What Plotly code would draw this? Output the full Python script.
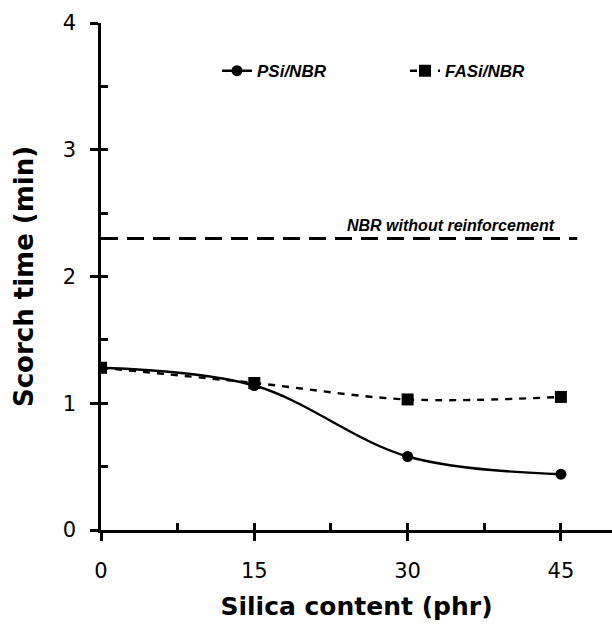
import plotly.graph_objects as go

silica = [0, 15, 30, 45]
psi_nbr = [1.28, 1.14, 0.58, 0.44]
fasi_nbr = [1.28, 1.16, 1.03, 1.05]
nbr_ref_x = [0, 46.6]
nbr_ref_y = [2.3, 2.3]
x_ticks = [0, 15, 30, 45]
y_ticks = [0, 1, 2, 3, 4]

FONT = "Liberation Sans, Arial, sans-serif"
WIDE = "DejaVu Sans, sans-serif"

fig = go.Figure()
fig.add_trace(go.Scatter(
    x=nbr_ref_x, y=nbr_ref_y, mode="lines", showlegend=False,
    line=dict(color="black", width=2.8, dash="17px,9px"), hoverinfo="skip"))
fig.add_trace(go.Scatter(
    x=silica, y=fasi_nbr, mode="lines+markers", name="<b><i>FASi/NBR</i></b>",
    line=dict(color="black", width=2.4, dash="7px,7px", shape="spline", smoothing=1.0),
    marker=dict(symbol="square", size=12, color="black")))
fig.add_trace(go.Scatter(
    x=silica, y=psi_nbr, mode="lines+markers", name="<b><i>PSi/NBR</i></b>",
    line=dict(color="black", width=2.4, shape="spline", smoothing=1.0),
    marker=dict(symbol="circle", size=11, color="black")))

fig.add_annotation(x=0.685, xref="paper", xanchor="center", y=2.3, yref="y",
                   yanchor="bottom", yshift=2,
                   text="<b><i>NBR without reinforcement</i></b>", showarrow=False,
                   font=dict(family=FONT, size=16, color="black"))

fig.update_layout(
    width=612, height=632,
    margin=dict(l=101, r=0, t=23, b=102),
    paper_bgcolor="white", plot_bgcolor="white",
    font=dict(family=FONT, color="black"),
    legend=dict(orientation="h", x=0.227, y=0.905, xanchor="left", yanchor="middle",
                traceorder="reversed", entrywidth=143, entrywidthmode="pixels",
                font=dict(family=FONT, size=17, color="black"), bgcolor="rgba(0,0,0,0)"),
    xaxis=dict(range=[0, 50], tickvals=x_ticks, ticktext=[str(v) for v in x_ticks],
               showgrid=False, zeroline=False, showline=True, linecolor="black", linewidth=2.5,
               ticks="outside", ticklen=8, tickwidth=2.5, tickcolor="black",
               tickfont=dict(size=21, family=WIDE), ticklabelstandoff=12,
               title=dict(text="<b>Silica content (phr)</b>", font=dict(size=25, family=WIDE), standoff=16)),
    yaxis=dict(range=[0, 4], tickvals=y_ticks, ticktext=[str(v) for v in y_ticks],
               showgrid=False, zeroline=False, showline=True, linecolor="black", linewidth=2.5,
               ticks="outside", ticklen=8, tickwidth=2.5, tickcolor="black",
               tickfont=dict(size=21, family=WIDE), ticklabelstandoff=10,
               title=dict(text="<b>Scorch time (min)</b>", font=dict(size=26, family=WIDE), standoff=22)),
    xaxis2=dict(range=[0, 50], overlaying="x", side="bottom", anchor="y",
                tickvals=[0, 7.5, 15, 22.5, 30, 37.5, 45], showticklabels=False,
                ticks="inside", ticklen=7, tickwidth=2.5, tickcolor="black",
                showgrid=False, zeroline=False, showline=False),
    yaxis2=dict(range=[0, 4], overlaying="y", side="left", anchor="x",
                tickvals=[0, 0.5, 1, 1.5, 2, 2.5, 3, 3.5, 4], showticklabels=False,
                ticks="inside", ticklen=7, tickwidth=2.5, tickcolor="black",
                showgrid=False, zeroline=False, showline=False),
)
# invisible trace to activate overlay axes
fig.add_trace(go.Scatter(x=[0], y=[0], xaxis="x2", yaxis="y2", mode="markers",
                         marker=dict(opacity=0), showlegend=False, hoverinfo="skip"))

fig.write_html("out.html")
